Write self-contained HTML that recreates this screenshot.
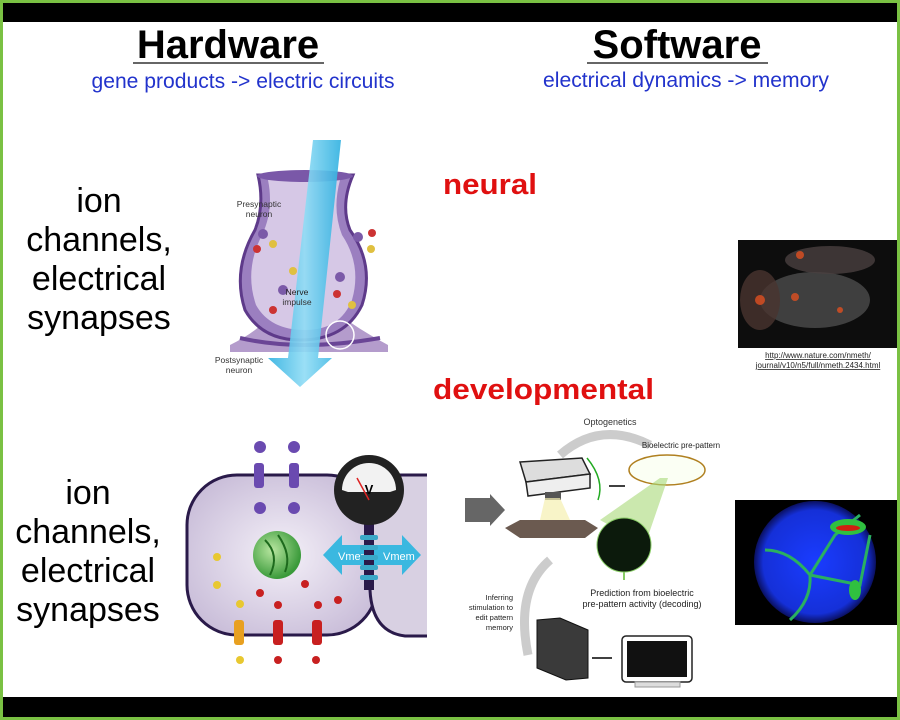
<!DOCTYPE html>
<html><head><meta charset="utf-8"><style>
html,body{margin:0;padding:0;background:#fff}
svg{display:block}
text{font-family:"Liberation Sans",sans-serif}
</style></head><body>
<svg width="900" height="720" viewBox="0 0 900 720" xmlns="http://www.w3.org/2000/svg">
<defs>
<linearGradient id="beam" x1="0" y1="0" x2="1" y2="0"><stop offset="0" stop-color="#2fb0e0"/><stop offset="0.5" stop-color="#8fdcf5"/><stop offset="1" stop-color="#2fb0e0"/></linearGradient>
<radialGradient id="cell" cx="0.5" cy="0.5" r="0.6"><stop offset="0" stop-color="#f4f0f8"/><stop offset="1" stop-color="#c8bcd8"/></radialGradient>
<radialGradient id="nuc" cx="0.4" cy="0.4" r="0.6"><stop offset="0" stop-color="#b8e6a0"/><stop offset="1" stop-color="#3a9a3a"/></radialGradient>
<radialGradient id="ball" cx="0.5" cy="0.5" r="0.5"><stop offset="0" stop-color="#1a3cff"/><stop offset="0.85" stop-color="#1530d8"/><stop offset="1" stop-color="#0a1060"/></radialGradient>
</defs>
<rect width="900" height="720" fill="#7ac143"/>
<rect x="3" y="3" width="894" height="714" fill="#fff"/>
<rect x="3" y="3" width="894" height="19" fill="#000"/>
<rect x="3" y="697" width="894" height="20" fill="#000"/>

<text x="228" y="58" font-size="40" font-weight="bold" text-anchor="middle">Hardware</text>
<line x1="133" y1="63" x2="324" y2="63" stroke="#333" stroke-width="1.5"/>
<text x="677" y="58" font-size="40" font-weight="bold" text-anchor="middle">Software</text>
<line x1="587" y1="63" x2="768" y2="63" stroke="#333" stroke-width="1.5"/>
<text x="243" y="88" font-size="21" fill="#2233cc" text-anchor="middle" textLength="303" lengthAdjust="spacingAndGlyphs">gene products -&gt; electric circuits</text>
<text x="686" y="87" font-size="21" fill="#2233cc" text-anchor="middle" textLength="286" lengthAdjust="spacingAndGlyphs">electrical dynamics -&gt; memory</text>

<g font-size="34" text-anchor="middle">
<text x="99" y="212">ion</text><text x="99" y="251">channels,</text><text x="99" y="290">electrical</text><text x="99" y="329">synapses</text>
<text x="88" y="504">ion</text><text x="88" y="543">channels,</text><text x="88" y="582">electrical</text><text x="88" y="621">synapses</text>
</g>
<text x="443" y="194" font-size="29" font-weight="bold" fill="#e01010" textLength="94" lengthAdjust="spacingAndGlyphs">neural</text>
<text x="433" y="399" font-size="29" font-weight="bold" fill="#e01010" textLength="221" lengthAdjust="spacingAndGlyphs">developmental</text>

<!-- synapse -->
<path d="M230 345 Q260 330 270 315 L340 315 Q360 330 388 345 L388 352 L230 352Z" fill="#b49ccc"/>
<path d="M258 175 Q265 205 255 230 Q232 270 245 310 Q262 340 300 340 Q345 340 362 305 Q375 265 350 230 Q340 205 353 175 Z" fill="#9b7fc0" stroke="#5e3a8a" stroke-width="3"/>
<path d="M268 180 Q274 210 262 235 Q244 270 256 305 Q270 330 305 330 Q340 330 352 300 Q362 265 342 235 Q332 210 340 180Z" fill="#d6c8e6"/>
<ellipse cx="305" cy="176" rx="48" ry="6" fill="#7a58a8"/>
<path d="M240 338 Q300 352 380 338" stroke="#6a4596" stroke-width="4" fill="none"/>
<polygon points="313,140 341,140 318,358 332,358 300,387 268,358 288,358" fill="url(#beam)" opacity="0.9"/>
<circle cx="340" cy="335" r="14" fill="none" stroke="#fff" stroke-width="1.5"/>
<g fill="#c33"><circle cx="257" cy="249" r="4"/><circle cx="372" cy="233" r="4"/><circle cx="337" cy="294" r="4"/><circle cx="273" cy="310" r="4"/></g>
<g fill="#e0c040"><circle cx="273" cy="244" r="4"/><circle cx="371" cy="249" r="4"/><circle cx="293" cy="271" r="4"/><circle cx="352" cy="305" r="4"/></g>
<g fill="#7b5aa8"><circle cx="263" cy="234" r="5"/><circle cx="358" cy="237" r="5"/><circle cx="283" cy="290" r="5"/><circle cx="340" cy="277" r="5"/></g>
<g font-size="8.5" text-anchor="middle" fill="#333">
<text x="259" y="207">Presynaptic</text><text x="259" y="217">neuron</text>
<text x="297" y="295" fill="#222">Nerve</text><text x="297" y="305">impulse</text>
<text x="239" y="363">Postsynaptic</text><text x="239" y="373">neuron</text>
</g>

<!-- cell -->
<rect x="187" y="475" width="190" height="160" rx="50" fill="url(#cell)" stroke="#2a1a4a" stroke-width="3"/>
<path d="M427 475 L400 475 Q370 480 370 520 L370 590 Q372 632 405 636 L427 636" fill="#d8d0e2" stroke="#2a1a4a" stroke-width="3"/>
<circle cx="277" cy="555" r="24" fill="url(#nuc)"/>
<path d="M265 540 Q280 555 270 575 M278 535 Q292 555 285 572" stroke="#1d6a1d" stroke-width="2" fill="none"/>
<polygon points="323,555 342,535 342,545 402,545 402,535 421,555 402,575 402,565 342,565 342,575" fill="#3ab8e0"/>
<text x="338" y="560" font-size="11" fill="#fff">Vmem</text><text x="383" y="560" font-size="11" fill="#fff">Vmem</text>
<rect x="364" y="520" width="10" height="70" fill="#2a1a4a"/>
<g fill="#3aa8c8"><rect x="360" y="535" width="18" height="5" rx="2"/><rect x="360" y="545" width="18" height="5" rx="2"/><rect x="360" y="555" width="18" height="5" rx="2"/><rect x="360" y="565" width="18" height="5" rx="2"/><rect x="360" y="575" width="18" height="5" rx="2"/></g>
<circle cx="369" cy="490" r="35" fill="#222"/>
<path d="M342 490 A27 27 0 0 1 396 490 L390 492 L348 492Z" fill="#f2f2f2"/>
<text x="369" y="494" font-size="13" text-anchor="middle" font-weight="bold">V</text>
<line x1="369" y1="500" x2="357" y2="478" stroke="#d22" stroke-width="1.5"/>
<g fill="#6a4ab0"><rect x="254" y="463" width="10" height="25" rx="3"/><rect x="289" y="463" width="10" height="25" rx="3"/>
<circle cx="260" cy="447" r="6"/><circle cx="294" cy="447" r="6"/><circle cx="260" cy="508" r="6"/><circle cx="294" cy="508" r="6"/></g>
<g fill="#e8a020"><rect x="234" y="620" width="10" height="25" rx="3"/></g>
<g fill="#c82020"><rect x="273" y="620" width="10" height="25" rx="3"/><rect x="312" y="620" width="10" height="25" rx="3"/></g>
<g fill="#e8c830"><circle cx="217" cy="557" r="4"/><circle cx="217" cy="585" r="4"/><circle cx="240" cy="604" r="4"/><circle cx="240" cy="660" r="4"/></g>
<g fill="#c82020"><circle cx="260" cy="593" r="4"/><circle cx="305" cy="584" r="4"/><circle cx="278" cy="605" r="4"/><circle cx="318" cy="605" r="4"/><circle cx="338" cy="600" r="4"/><circle cx="278" cy="660" r="4"/><circle cx="316" cy="660" r="4"/></g>

<!-- optogenetics -->
<polygon points="465,498 490,498 490,494 505,510 490,526 490,522 465,522" fill="#666"/>
<path d="M560 455 Q600 420 650 445" stroke="#ccc" stroke-width="9" fill="none"/>
<path d="M528 655 Q515 590 550 560" stroke="#ccc" stroke-width="9" fill="none"/>
<text x="610" y="425" font-size="9" text-anchor="middle" fill="#333">Optogenetics</text>
<text x="681" y="448" font-size="8" text-anchor="middle" fill="#222">Bioelectric pre-pattern</text>
<polygon points="520,462 582,458 590,474 526,482" fill="#ddd" stroke="#222" stroke-width="1.5"/>
<polygon points="526,482 590,474 590,488 528,496" fill="#eee" stroke="#222" stroke-width="1.5"/>
<rect x="545" y="492" width="16" height="8" fill="#555"/>
<path d="M587 458 Q605 480 598 500" stroke="#2a2" stroke-width="1.5" fill="none"/>
<polygon points="505,528 520,520 585,520 598,528 585,538 520,538" fill="#6b5a50"/>
<polygon points="545,498 560,498 570,520 540,520" fill="#f5f0b0" opacity="0.7"/>
<line x1="609" y1="486" x2="625" y2="486" stroke="#000" stroke-width="1.5"/>
<ellipse cx="667" cy="470" rx="38" ry="15" fill="#fbfff4" stroke="#b08020" stroke-width="1.5"/>
<polygon points="660,478 600,520 645,545 668,478" fill="#a8d878" opacity="0.6"/>
<circle cx="624" cy="545" r="27" fill="#0c1a0c" stroke="#8c6" stroke-width="1"/>
<line x1="624" y1="572" x2="624" y2="580" stroke="#8c6" stroke-width="2"/>
<text x="642" y="596" font-size="9" text-anchor="middle" fill="#222">Prediction from bioelectric</text>
<text x="642" y="607" font-size="9" text-anchor="middle" fill="#222">pre-pattern activity (decoding)</text>
<g font-size="7.5" text-anchor="end" fill="#222"><text x="513" y="600">Inferring</text><text x="513" y="610">stimulation to</text><text x="513" y="620">edit pattern</text><text x="513" y="630">memory</text></g>
<polygon points="537,620 560,618 588,630 588,678 566,680 537,668" fill="#3a3a3a" stroke="#111"/>
<line x1="592" y1="658" x2="612" y2="658" stroke="#000" stroke-width="1.5"/>
<rect x="622" y="636" width="70" height="46" rx="4" fill="#fff" stroke="#222" stroke-width="1.5"/>
<rect x="627" y="641" width="60" height="36" fill="#111"/>
<rect x="635" y="682" width="45" height="5" fill="#ddd" stroke="#999"/>

<!-- right images -->
<rect x="738" y="240" width="159" height="108" fill="#0d0d0d"/>
<ellipse cx="815" cy="300" rx="55" ry="28" fill="#555" opacity="0.7"/>
<ellipse cx="760" cy="300" rx="20" ry="30" fill="#4a3530" opacity="0.8"/>
<ellipse cx="830" cy="260" rx="45" ry="14" fill="#4a4040" opacity="0.8"/>
<g fill="#e05020" opacity="0.8"><circle cx="795" cy="297" r="4"/><circle cx="760" cy="300" r="5"/><circle cx="840" cy="310" r="3"/><circle cx="800" cy="255" r="4"/></g>
<g font-size="8" text-anchor="middle" fill="#222" text-decoration="underline"><text x="818" y="358">http://www.nature.com/nmeth/</text><text x="818" y="368">journal/v10/n5/full/nmeth.2434.html</text></g>
<rect x="735" y="500" width="162" height="125" fill="#000"/>
<circle cx="815" cy="562" r="61" fill="url(#ball)"/>
<path d="M765 550 Q790 550 810 575 L835 535 L860 515 M810 575 Q812 600 790 620 M810 575 L860 585 L870 535" stroke="#2ab060" stroke-width="3" fill="none"/>
<ellipse cx="848" cy="527" rx="18" ry="8" fill="#30c040"/><ellipse cx="848" cy="528" rx="12" ry="3" fill="#d02010"/>
<ellipse cx="855" cy="590" rx="6" ry="10" fill="#30c040"/>
</svg>
</body></html>
